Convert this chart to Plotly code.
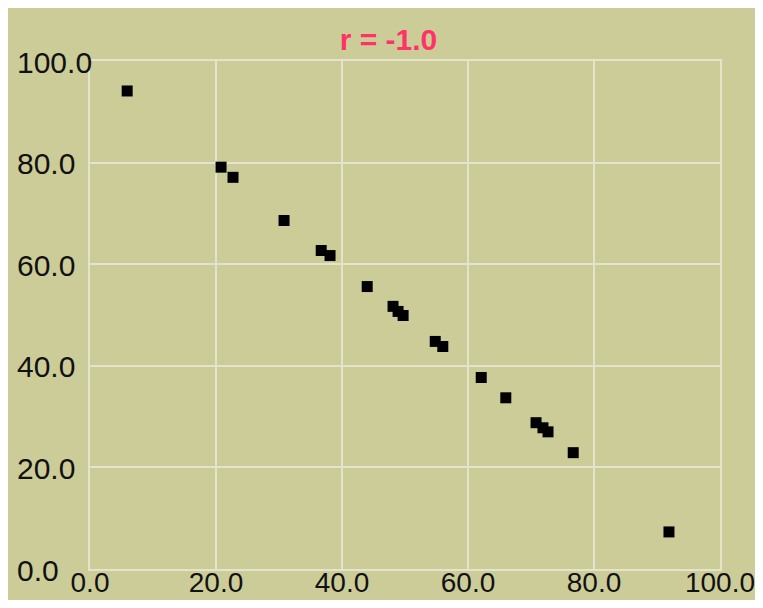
import plotly.graph_objects as go

# Data
x_vals = [5.9, 20.8, 22.7, 30.8, 36.7, 38.1, 44.0, 48.1, 48.9, 49.7,
          54.8, 56.0, 62.1, 66.0, 70.8, 71.9, 72.7, 76.7, 91.9]
y_vals = [94.1, 79.1, 77.1, 68.6, 62.7, 61.7, 55.6, 51.7, 50.7, 49.9,
          44.8, 43.8, 37.7, 33.7, 28.8, 27.8, 27.0, 22.9, 7.3]
tick_vals = [0, 20, 40, 60, 80, 100]
tick_text = ["0.0", "20.0", "40.0", "60.0", "80.0", "100.0"]
title_text = "r = -1.0"

# The page body has an 8px margin on every side; size the figure so the page
# is exactly the window size.
W, H = 747, 592
ML, MR, MT, MB = 82, 35, 53, 31
PW, PH = W - ML - MR, H - MT - MB

BG = "#CCCC99"
GRID = "#E4E4CC"
FONT = "Liberation Sans, Arial, sans-serif"

fig = go.Figure()
fig.add_trace(go.Scatter(
    x=x_vals, y=y_vals, mode="markers",
    marker=dict(symbol="square", size=11, color="black", line=dict(width=0)),
    showlegend=False, hoverinfo="x+y",
))

axis_common = dict(
    range=[0, 100], tickvals=tick_vals, showgrid=True, gridcolor=GRID, gridwidth=2,
    zeroline=False, showline=True, linecolor=GRID, linewidth=2, mirror=True,
    ticks="", fixedrange=True, automargin=False,
)

fig.update_xaxes(**axis_common, ticktext=tick_text,
                 tickfont=dict(family=FONT, size=28, color="#111111"),
                 ticklabelstandoff=-13, ticklabeloverflow="allow")
fig.update_yaxes(**axis_common, showticklabels=False)

annotations = []
for v, t in zip(tick_vals, tick_text):
    annotations.append(dict(
        x=(7 - ML) / PW, xref="paper", xanchor="left",
        y=v, yref="y", yanchor="middle", yshift=-1,
        text=t, showarrow=False,
        font=dict(family=FONT, size=30, color="#111111"),
    ))

fig.update_layout(
    width=W, height=H,
    margin=dict(l=ML, r=MR, t=MT, b=MB, pad=0, autoexpand=False),
    paper_bgcolor=BG, plot_bgcolor=BG,
    title=dict(text="<b>" + title_text + "</b>", x=380.5 / W, xanchor="center",
               y=1 - 31 / H, yanchor="middle", xref="container", yref="container",
               font=dict(family=FONT, size=30, color="#FF3366")),
    annotations=annotations,
)

fig.write_html("out.html")
